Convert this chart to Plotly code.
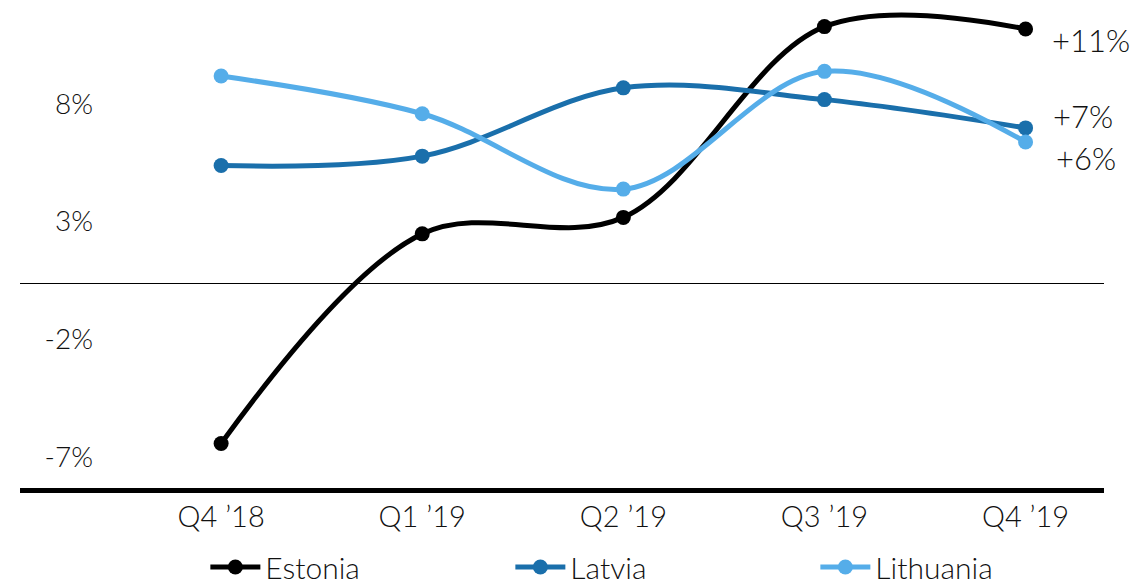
import plotly.graph_objects as go

quarters = ["Q4 ’18", "Q1 ’19", "Q2 ’19", "Q3 ’19", "Q4 ’19"]
estonia = [-6.8, 2.1, 2.8, 10.9, 10.8]
latvia = [5.0, 5.4, 8.3, 7.8, 6.6]
lithuania = [8.8, 7.2, 4.0, 9.0, 6.0]
series_names = ["Estonia", "Latvia", "Lithuania"]
series_colors = ["#000000", "#1a6fab", "#55ade9"]
end_labels = ["+11%", "+7%", "+6%"]
end_label_shift = [-11, 12, -16]
end_label_xshift = [24, 25, 28]
y_ticks = [-7, -2, 3, 8]
y_tick_text = ["-7%", "-2%", "3%", "8%"]

FONT = "Lato"

fig = go.Figure()
for name, vals, col in zip(series_names, [estonia, latvia, lithuania], series_colors):
    fig.add_trace(go.Scatter(
        x=quarters, y=vals, name=name, mode="lines+markers",
        line=dict(color=col, width=5, shape="spline", smoothing=1),
        marker=dict(color=col, size=15),
    ))

for vals, txt, ys, xs in zip([estonia, latvia, lithuania], end_labels, end_label_shift, end_label_xshift):
    fig.add_annotation(x=quarters[-1], y=vals[-1], text=txt, showarrow=False,
                       xanchor="left", yanchor="middle", xshift=xs, yshift=ys,
                       font=dict(family=FONT, size=31, color="#111", weight=300))

fig.update_layout(
    width=1148, height=585,
    margin=dict(l=12, r=52, t=0, b=104),
    plot_bgcolor="white", paper_bgcolor="white",
    font=dict(family=FONT, size=28, color="#111", weight=300),
    showlegend=True,
    legend=dict(orientation="h", x=0.171, xanchor="left", y=-0.164, yanchor="middle",
                entrywidth=240, entrywidthmode="pixels", itemwidth=50,
                font=dict(family=FONT, size=30, color="#111", weight=300)),
)
fig.update_xaxes(type="category", range=[-1.0, 4.39], showgrid=False,
                 showline=True, linewidth=5, linecolor="black", ticks="",
                 ticklabelstandoff=-1, tickfont=dict(size=29), automargin=False)
fig.update_yaxes(range=[-8.69, 11.69], tickvals=y_ticks, ticktext=y_tick_text,
                 showgrid=False, zeroline=True, zerolinecolor="black", zerolinewidth=1,
                 showline=False, ticks="", ticklabelstandoff=-74, ticklabelshift=9,
                 automargin=False)

fig.write_html("out.html")
